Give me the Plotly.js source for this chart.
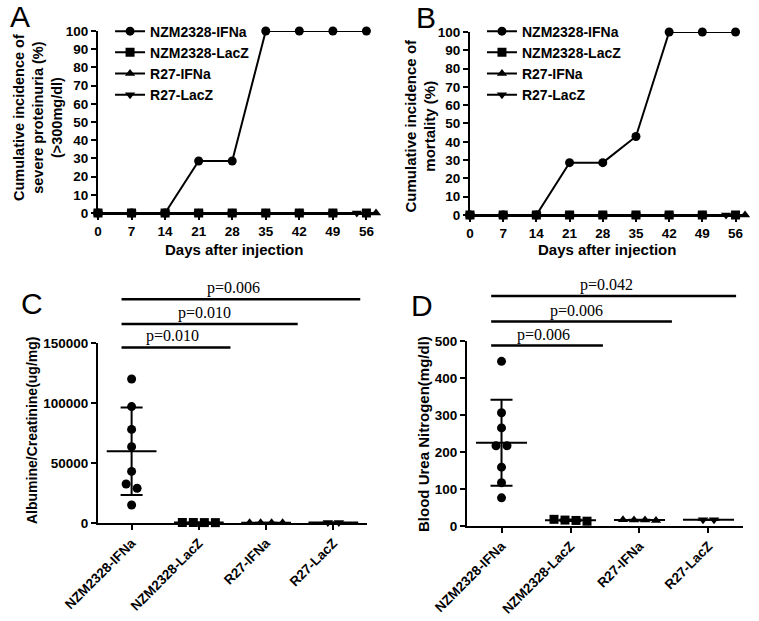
<!DOCTYPE html>
<html>
<head>
<meta charset="utf-8">
<script src="https://cdn.plot.ly/plotly-3.0.1.min.js"></script>
<style>html,body{margin:0;padding:0;background:#fff}</style>
</head>
<body>
<div id="plotArea" style="width:759px;height:621px"></div>
<script>
// panels A and B: cumulative incidence by day
var days = [0, 7, 14, 21, 28, 35, 42, 49, 56];
var daysR27IFNa = [0, 7, 14, 21, 28, 35, 42, 49, 58];
var daysR27LacZ = [0, 7, 14, 21, 28, 35, 42, 49, 54];
var proteinuriaIFNa = [0, 0, 0, 28.6, 28.6, 100, 100, 100, 100];
var mortalityIFNa = [0, 0, 0, 28.6, 28.6, 42.9, 100, 100, 100];
var zeros = [0, 0, 0, 0, 0, 0, 0, 0, 0];

// panels C and D: individual mice per group
var groups = ['NZM2328-IFNa', 'NZM2328-LacZ', 'R27-IFNa', 'R27-LacZ'];
var symbols = ['circle', 'square', 'triangle-up', 'triangle-down'];

var albCre = [
  [120000, 97000, 78000, 63500, 43000, 32500, 29000, 15000],
  [400, 350, 300, 420],
  [250, 200, 300, 280],
  [500, 450]
];
var albCreMean = [59800, 370, 260, 480];
var albCreSD = [36500, 50, 40, 30];

var bun = [
  [445, 306, 265, 217, 217, 159, 117, 76],
  [16, 13, 15, 18],
  [16, 15, 16, 17],
  [17, 17]
];
var bunMean = [225, 15.5, 16, 17];
var bunSD = [116, 2, 1, 0];

var pAlbCre = ['p=0.010', 'p=0.010', 'p=0.006'];
var pBun = ['p=0.006', 'p=0.006', 'p=0.042'];

var W = 759, H = 621;
var bold = {family: 'Liberation Sans, Arial, sans-serif', size: 13.5, color: 'black', weight: 'bold'};
var dom = {
  x: [0.1291, 0.4954], y: [0.6570, 0.9501],
  x2: [0.6192, 0.9816], y2: [0.6538, 0.9485],
  x3: [0.1291, 0.4835], y3: [0.1578, 0.4477],
  x4: [0.6153, 0.9789], y4: [0.1530, 0.4509]
};

// put points that would overlap side by side (GraphPad style scatter)
function swarm(vals, center, pxPerUnitY, step) {
  var idx = vals.map(function (v, i) { return i; })
    .sort(function (a, b) { return vals[b] - vals[a]; });
  var xs = [], row = [];
  function flush() {
    row.forEach(function (k, j) { xs[k] = center + (j - (row.length - 1) / 2) * step; });
    row = [];
  }
  idx.forEach(function (k) {
    if (row.length && (vals[row[row.length - 1]] - vals[k]) * pxPerUnitY > 9) flush();
    row.push(k);
  });
  flush();
  return xs;
}

var data = [];

function curve(x, y, name, sym, xa, ya, leg) {
  data.push({
    x: x, y: y, name: name, type: 'scatter', mode: 'lines+markers',
    xaxis: xa, yaxis: ya, legend: leg, cliponaxis: false,
    line: {color: 'black', width: 2},
    marker: {symbol: sym, size: 9, color: 'black'}
  });
}
[['x', 'y', 'legend', proteinuriaIFNa], ['x2', 'y2', 'legend2', mortalityIFNa]].forEach(function (p) {
  curve(days, p[3], groups[0], symbols[0], p[0], p[1], p[2]);
  curve(days, zeros, groups[1], symbols[1], p[0], p[1], p[2]);
  curve(daysR27IFNa, zeros, groups[2], symbols[2], p[0], p[1], p[2]);
  curve(daysR27LacZ, zeros, groups[3], symbols[3], p[0], p[1], p[2]);
});

function dots(vals, means, sds, xa, ya, yRange) {
  var pxY = (dom[ya][1] - dom[ya][0]) * H / (yRange[1] - yRange[0]);
  var step = 11 / ((dom[xa][1] - dom[xa][0]) * W / 4);
  vals.forEach(function (v, i) {
    data.push({
      x: swarm(v, i, pxY, step), y: v, type: 'scatter', mode: 'markers',
      xaxis: xa, yaxis: ya, showlegend: false, cliponaxis: false,
      marker: {symbol: symbols[i], size: 9, color: 'black'}
    });
  });
  data.push({
    x: [0, 1, 2, 3], y: means, type: 'scatter', mode: 'markers',
    xaxis: xa, yaxis: ya, showlegend: false, cliponaxis: false,
    marker: {size: 2, color: 'rgba(0,0,0,0)'},
    error_y: {type: 'data', array: sds, width: 11, thickness: 2, color: 'black'},
    error_x: {type: 'constant', value: 0.37, width: 0, thickness: 2, color: 'black'}
  });
}
dots(albCre, albCreMean, albCreSD, 'x3', 'y3', [0, 150000]);
dots(bun, bunMean, bunSD, 'x4', 'y4', [0, 500]);

function axis(extra) {
  var a = {
    showgrid: false, zeroline: false, showline: true, linecolor: 'black', linewidth: 2,
    ticks: 'outside', ticklen: 5, tickwidth: 2, tickcolor: 'black', tickfont: bold,
    fixedrange: true
  };
  for (var k in extra) a[k] = extra[k];
  return a;
}

var shapes = [], annotations = [];
var bracketY = [0.975, 1.105, 1.243];
[['x3', 'y3', pAlbCre], ['x4', 'y4', pBun]].forEach(function (p) {
  p[2].forEach(function (txt, j) {
    var x0 = -0.15, x1 = Math.min(j + 1.47, 3.4);
    shapes.push({type: 'line', xref: p[0], yref: p[1] + ' domain', x0: x0, x1: x1,
      y0: bracketY[j], y1: bracketY[j], line: {color: 'black', width: 2.5}});
    annotations.push({xref: p[0], yref: p[1] + ' domain', x: x0 + 0.47 * (x1 - x0), y: bracketY[j],
      yanchor: 'bottom', yshift: 0, showarrow: false, text: txt,
      font: {family: 'Liberation Serif, Times New Roman, serif', size: 16, color: 'black'}});
  });
});

function label(text, x, y, size, angle, weight) {
  annotations.push({xref: 'paper', yref: 'paper', x: x / W, y: 1 - y / H, text: text,
    showarrow: false, textangle: angle || 0, xanchor: 'center', yanchor: 'middle',
    font: {family: 'Liberation Sans, Arial, sans-serif', size: size, color: 'black', weight: weight || 'normal'}});
}
label('A', 20, 16, 30);
label('B', 426, 17, 30);
label('C', 32, 304, 30);
label('D', 422, 305, 30);
label('Cumulative incidence of<br>severe proteinuria (%)<br>(>300mg/dl)', 38, 118, 14.5, -90, 'bold');
label('Cumulative incidence of<br>mortality (%)', 419.5, 126, 15, -90, 'bold');
label('Days after injection', 234, 249, 15, 0, 'bold');
label('Days after injection', 607, 249, 15, 0, 'bold');
label('Albumine/Creatinine(ug/mg)', 32, 431, 14, -90, 'bold');
label('Blood Urea Nitrogen(mg/dl)', 423, 434, 15, -90, 'bold');

var legendStyle = {
  xanchor: 'left', yanchor: 'top', bgcolor: 'rgba(0,0,0,0)', itemwidth: 30,
  font: {family: 'Liberation Sans, Arial, sans-serif', size: 14, color: 'black', weight: 'bold'}
};
function legendAt(x, y) {
  var l = {x: x, y: y};
  for (var k in legendStyle) l[k] = legendStyle[k];
  return l;
}

var layout = {
  width: W, height: H,
  margin: {l: 0, r: 0, t: 0, b: 0},
  paper_bgcolor: 'white', plot_bgcolor: 'white',
  showlegend: true,
  legend: legendAt(0.145, 0.975),
  legend2: legendAt(0.635, 0.975),
  xaxis: axis({domain: dom.x, range: [0, 58], tickvals: days, anchor: 'y'}),
  yaxis: axis({domain: dom.y, range: [0, 100], dtick: 10, anchor: 'x'}),
  xaxis2: axis({domain: dom.x2, range: [0, 58], tickvals: days, anchor: 'y2'}),
  yaxis2: axis({domain: dom.y2, range: [0, 100], dtick: 10, anchor: 'x2'}),
  xaxis3: axis({domain: dom.x3, range: [-0.5, 3.5], tickvals: [0, 1, 2, 3], ticktext: groups, tickangle: -45, anchor: 'y3'}),
  yaxis3: axis({domain: dom.y3, range: [0, 150000], tickvals: [0, 50000, 100000, 150000], tickformat: 'd', anchor: 'x3'}),
  xaxis4: axis({domain: dom.x4, range: [-0.5, 3.5], tickvals: [0, 1, 2, 3], ticktext: groups, tickangle: -45, anchor: 'y4'}),
  yaxis4: axis({domain: dom.y4, range: [0, 500], dtick: 100, anchor: 'x4'}),
  shapes: shapes,
  annotations: annotations
};

Plotly.newPlot('plotArea', data, layout, {staticPlot: true});
</script>
</body>
</html>
